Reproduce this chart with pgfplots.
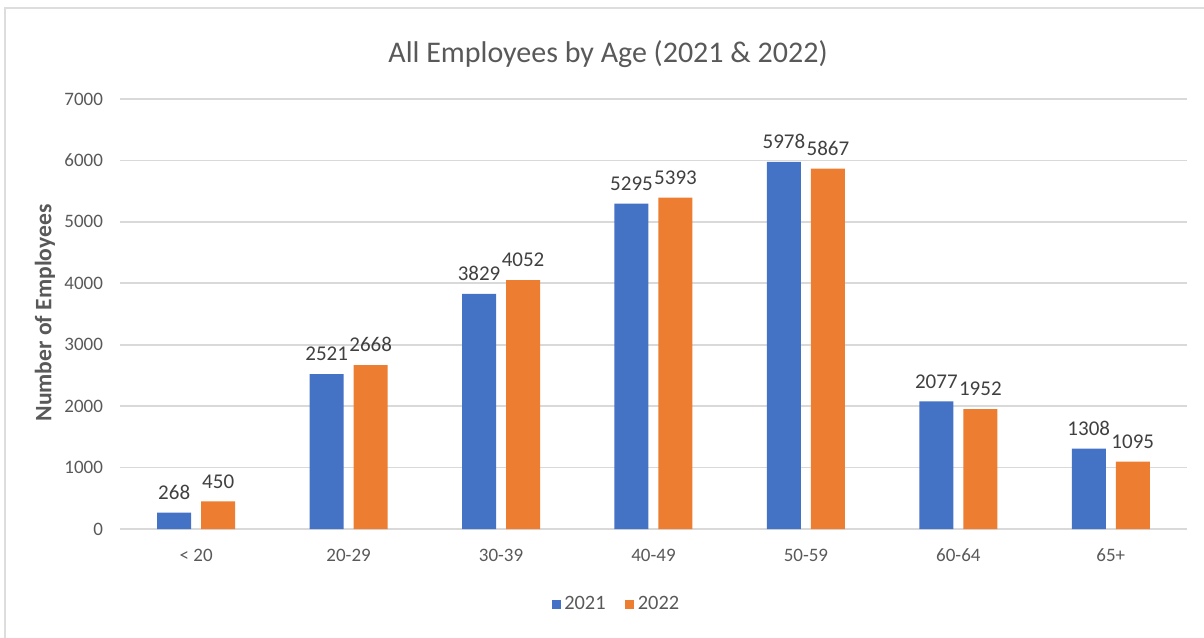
\documentclass[border=0pt]{standalone}
\usepackage{pgfplots}
\pgfplotsset{compat=1.18}
\usepackage{fontspec}
\setmainfont{Carlito}
\definecolor{cblue}{HTML}{4472C4}
\definecolor{corange}{HTML}{ED7D31}
\definecolor{tgray}{HTML}{595959}
\definecolor{tdark}{HTML}{404040}
\definecolor{ggray}{HTML}{D9D9D9}
\definecolor{fgray}{HTML}{DDDDDD}
\begin{document}
\begin{tikzpicture}
\useasboundingbox (-60pt,-54pt) rectangle (542pt,264.5pt);
\draw[fgray, line width=1.2pt] (-57.5pt,-80pt) -- (-57.5pt,260.5pt) -- (560pt,260.5pt);
\begin{axis}[
  at={(0,0)}, anchor=south west,
  scale only axis, width=533.5pt, height=215pt,
  ybar=5pt, bar width=17pt,
  xmin=-0.5, xmax=6.5, ymin=0, ymax=7000,
  xtick={0,1,2,3,4,5,6},
  xticklabels={{< 20},{20-29},{30-39},{40-49},{50-59},{60-64},{65+}},
  ytick={0,1000,2000,3000,4000,5000,6000,7000},
  ymajorgrids, grid style={ggray, line width=0.8pt},
  axis line style={draw=none},
  major tick length=0pt,
  /pgf/number format/assume math mode=true,
  /pgf/number format/1000 sep={},
  tick label style={text=tgray, font=\fontsize{9.5}{11}\selectfont},
  yticklabel style={xshift=-5pt},
  xticklabel style={yshift=-6.5pt},
  nodes near coords,
  every node near coord/.append style={text=tdark, font=\fontsize{10.5}{12}\selectfont, yshift=3pt},
  legend style={at={(0.466,-0.176)}, anchor=center, draw=none, fill=none,
    legend columns=2, font=\fontsize{10.2}{12}\selectfont, text=tgray,
    nodes={inner xsep=1.8pt},
    /tikz/every even column/.append style={column sep=8pt}},
  legend image code/.code={\fill[#1] (0pt,-2.25pt) rectangle (4.5pt,2.25pt);},
]
\addplot[fill=cblue, draw=none] coordinates {(0,268) (1,2521) (2,3829) (3,5295) (4,5978) (5,2077) (6,1308)};
\addplot[fill=corange, draw=none] coordinates {(0,450) (1,2668) (2,4052) (3,5393) (4,5867) (5,1952) (6,1095)};
\legend{2021,2022}
\end{axis}
\node[text=tgray, font=\fontsize{15}{17}\selectfont] at (244pt,237.5pt) {All Employees by Age (2021 \& 2022)};
\node[text=tgray, rotate=90, font=\fontsize{11.8}{13}\selectfont\bfseries] at (-37.5pt,108pt) {Number of Employees};
\end{tikzpicture}
\end{document}
